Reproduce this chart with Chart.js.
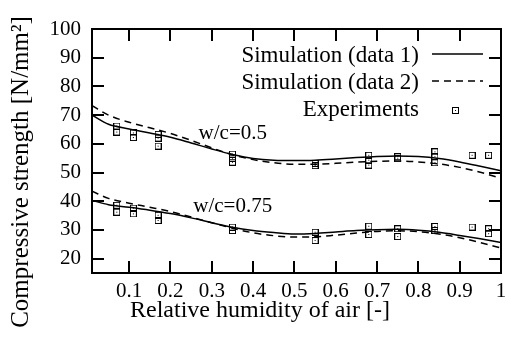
<!DOCTYPE html>
<html>
<head>
<meta charset="utf-8">
<script src="https://cdn.jsdelivr.net/npm/chart.js@4.4.1/dist/chart.umd.min.js"></script>
<style>
  html, body { margin: 0; padding: 0; background: #fff; }
</style>
</head>
<body>
<canvas id="strengthChart" width="506" height="339"></canvas>
<script>
// relative humidity grid for the simulated curves
const rhGrid = [0.01, 0.05, 0.1, 0.15, 0.2, 0.25, 0.3, 0.35, 0.4, 0.45, 0.5,
                0.55, 0.6, 0.65, 0.7, 0.75, 0.8, 0.85, 0.9, 0.95, 1.0];

const sim1Wc05  = [70.0, 66.8, 65.2, 63.8, 62.3, 60.3, 58.2, 56.3, 54.9, 54.3, 54.2,
                   54.3, 54.7, 55.2, 55.6, 55.8, 55.6, 54.9, 53.7, 52.2, 50.6];
const sim2Wc05  = [73.3, 70.0, 67.5, 65.6, 63.6, 61.2, 58.6, 56.2, 54.5, 53.4, 52.9,
                   52.9, 53.2, 53.6, 53.9, 54.0, 53.7, 53.0, 51.8, 50.1, 48.0];
const sim1Wc075 = [40.3, 38.8, 37.9, 36.9, 35.7, 34.2, 32.5, 30.9, 29.8, 29.1, 28.6,
                   28.8, 29.3, 29.8, 30.1, 30.2, 29.9, 29.2, 28.1, 26.9, 25.6];
const sim2Wc075 = [43.5, 41.0, 39.3, 37.9, 36.4, 34.5, 32.5, 30.6, 29.0, 28.0, 27.5,
                   27.6, 28.2, 28.9, 29.5, 29.7, 29.4, 28.6, 27.3, 25.6, 23.7];

// experiments (several specimens per humidity)
const expRh05  = [0.07, 0.07, 0.11, 0.11, 0.17, 0.17, 0.17, 0.35, 0.35, 0.35,
                  0.55, 0.55, 0.68, 0.68, 0.68, 0.75, 0.75, 0.84, 0.84, 0.84, 0.93, 0.97];
const expStr05 = [66.2, 64.1, 63.8, 62.2, 63.3, 62.0, 59.2, 56.4, 55.0, 53.6,
                  53.2, 52.4, 56.0, 54.3, 52.6, 55.5, 54.8, 57.2, 55.5, 53.4, 56.0, 56.0];
const expRh075  = [0.07, 0.07, 0.11, 0.11, 0.17, 0.17, 0.35, 0.35,
                   0.55, 0.55, 0.68, 0.68, 0.75, 0.75, 0.84, 0.84, 0.93, 0.97, 0.97];
const expStr075 = [38.6, 36.2, 37.6, 35.6, 35.1, 33.3, 31.0, 29.8,
                   29.2, 26.3, 31.3, 28.4, 30.4, 27.7, 31.2, 29.8, 31.0, 30.4, 28.7];

const xTicks = [0.1, 0.2, 0.3, 0.4, 0.5, 0.6, 0.7, 0.8, 0.9, 1.0];
const yTicks = [20, 30, 40, 50, 60, 70, 80, 90, 100];

const xTitle = 'Relative humidity of air [-]';
const yTitle = 'Compressive strength [N/mm\u00B2]';
const curveLabels = ['w/c=0.5', 'w/c=0.75'];

const serif = "'Liberation Serif', 'DejaVu Serif', serif";

function pairs(xs, ys) {
    return xs.map((v, i) => ({ x: v, y: ys[i] }));
}

// square with a dot, like the gnuplot point
const boxMark = document.createElement('canvas');
boxMark.width = 7;
boxMark.height = 7;
(function () {
    let c = boxMark.getContext('2d');
    c.strokeStyle = '#000';
    c.lineWidth = 1;
    c.strokeRect(0.5, 0.5, 6, 6);
    c.fillStyle = '#000';
    c.fillRect(3, 3, 1, 1);
})();

const expPoints = pairs(expRh05, expStr05).concat(pairs(expRh075, expStr075));

const framePlugin = {
    id: 'frame',
    afterDraw(chart) {
        const ctx = chart.ctx;
        const a = chart.chartArea;
        const x = chart.scales.x;
        const y = chart.scales.y;

        ctx.save();
        ctx.setLineDash([]);
        ctx.fillStyle = '#000';
        // tick marks pointing inward, on all four sides
        xTicks.forEach(v => {
            let px = Math.round(x.getPixelForValue(v));
            if (px >= a.right - 2) return;
            ctx.fillRect(px - 1, a.bottom - 12, 2, 12);
            ctx.fillRect(px - 1, a.top, 2, 12);
        });
        yTicks.forEach(v => {
            let py = Math.round(y.getPixelForValue(v));
            if (py <= a.top + 2) return;
            ctx.fillRect(a.left, py - 1, 12, 2);
            ctx.fillRect(a.right - 12, py - 1, 12, 2);
        });
        ctx.strokeStyle = '#000';
        ctx.lineWidth = 2;
        ctx.strokeRect(a.left, a.top, a.right - a.left, a.bottom - a.top);

        function seg(x1, y1, x2, y2) {
            ctx.beginPath();
            ctx.moveTo(x1, y1);
            ctx.lineTo(x2, y2);
            ctx.stroke();
        }

        // legend (text right aligned, sample on the right)
        ctx.font = '23px ' + serif;
        ctx.textAlign = 'right';
        ctx.textBaseline = 'middle';
        const ds = chart.data.datasets;
        ctx.fillText(ds[0].label, 419, 56);
        ctx.fillText(ds[1].label, 419, 83);
        ctx.fillText(ds[4].label, 419, 110);
        ctx.lineWidth = 1.5;
        seg(432, 54, 483, 54);
        ctx.setLineDash([7, 5]);
        seg(432, 81, 483, 81);
        ctx.setLineDash([]);
        ctx.drawImage(boxMark, 452, 107);

        // curve labels
        ctx.font = '21px ' + serif;
        ctx.textAlign = 'left';
        ctx.fillText(curveLabels[0], x.getPixelForValue(0.268), y.getPixelForValue(63.7));
        ctx.fillText(curveLabels[1], x.getPixelForValue(0.255), y.getPixelForValue(38));

        // axis titles
        ctx.font = '24px ' + serif;
        ctx.textAlign = 'center';
        ctx.fillText(xTitle, 260, 311);
        ctx.translate(21, 172);
        ctx.rotate(-Math.PI / 2);
        ctx.font = '25px ' + serif;
        ctx.fillText(yTitle, 0, 0);
        ctx.restore();
    }
};

const ctx = document.getElementById('strengthChart').getContext('2d');
const strengthChart = new Chart(ctx, {
    type: 'scatter',
    data: {
        datasets: [
            {
                label: 'Simulation (data 1)',
                data: pairs(rhGrid, sim1Wc05),
                showLine: true,
                borderColor: '#000',
                borderWidth: 1.5,
                pointRadius: 0,
                cubicInterpolationMode: 'monotone'
            },
            {
                label: 'Simulation (data 2)',
                data: pairs(rhGrid, sim2Wc05),
                showLine: true,
                borderColor: '#000',
                borderWidth: 1.5,
                borderDash: [7, 5],
                pointRadius: 0,
                cubicInterpolationMode: 'monotone'
            },
            {
                label: 'Simulation (data 1) w/c=0.75',
                data: pairs(rhGrid, sim1Wc075),
                showLine: true,
                borderColor: '#000',
                borderWidth: 1.5,
                pointRadius: 0,
                cubicInterpolationMode: 'monotone'
            },
            {
                label: 'Simulation (data 2) w/c=0.75',
                data: pairs(rhGrid, sim2Wc075),
                showLine: true,
                borderColor: '#000',
                borderWidth: 1.5,
                borderDash: [7, 5],
                pointRadius: 0,
                cubicInterpolationMode: 'monotone'
            },
            {
                label: 'Experiments',
                data: expPoints,
                pointStyle: boxMark,
                pointRadius: 3.5
            }
        ]
    },
    options: {
        responsive: false,
        animation: false,
        devicePixelRatio: 1,
        layout: { padding: { top: 29, right: 3, left: 0, bottom: 0 } },
        plugins: {
            legend: { display: false },
            tooltip: { enabled: false }
        },
        scales: {
            x: {
                type: 'linear',
                min: 0.01,
                max: 1,
                grid: { display: false, drawTicks: false },
                border: { display: false },
                afterBuildTicks: scale => { scale.ticks = xTicks.map(v => ({ value: v })); },
                afterFit: scale => {
                    scale.height = 66;
                    scale.paddingLeft = 0;
                    scale.paddingRight = 0;
                },
                ticks: {
                    padding: 6,
                    maxRotation: 0,
                    color: '#000',
                    font: { family: serif, size: 21 },
                    callback: v => (v === 1 ? '1' : v.toFixed(1))
                }
            },
            y: {
                min: 15,
                max: 100,
                grid: { display: false, drawTicks: false },
                border: { display: false },
                afterBuildTicks: scale => { scale.ticks = yTicks.map(v => ({ value: v })); },
                afterFit: scale => {
                    scale.width = 92;
                    scale.paddingTop = 0;
                    scale.paddingBottom = 0;
                },
                ticks: {
                    padding: 11,
                    color: '#000',
                    font: { family: serif, size: 21 }
                }
            }
        }
    },
    plugins: [framePlugin]
});
</script>
</body>
</html>
